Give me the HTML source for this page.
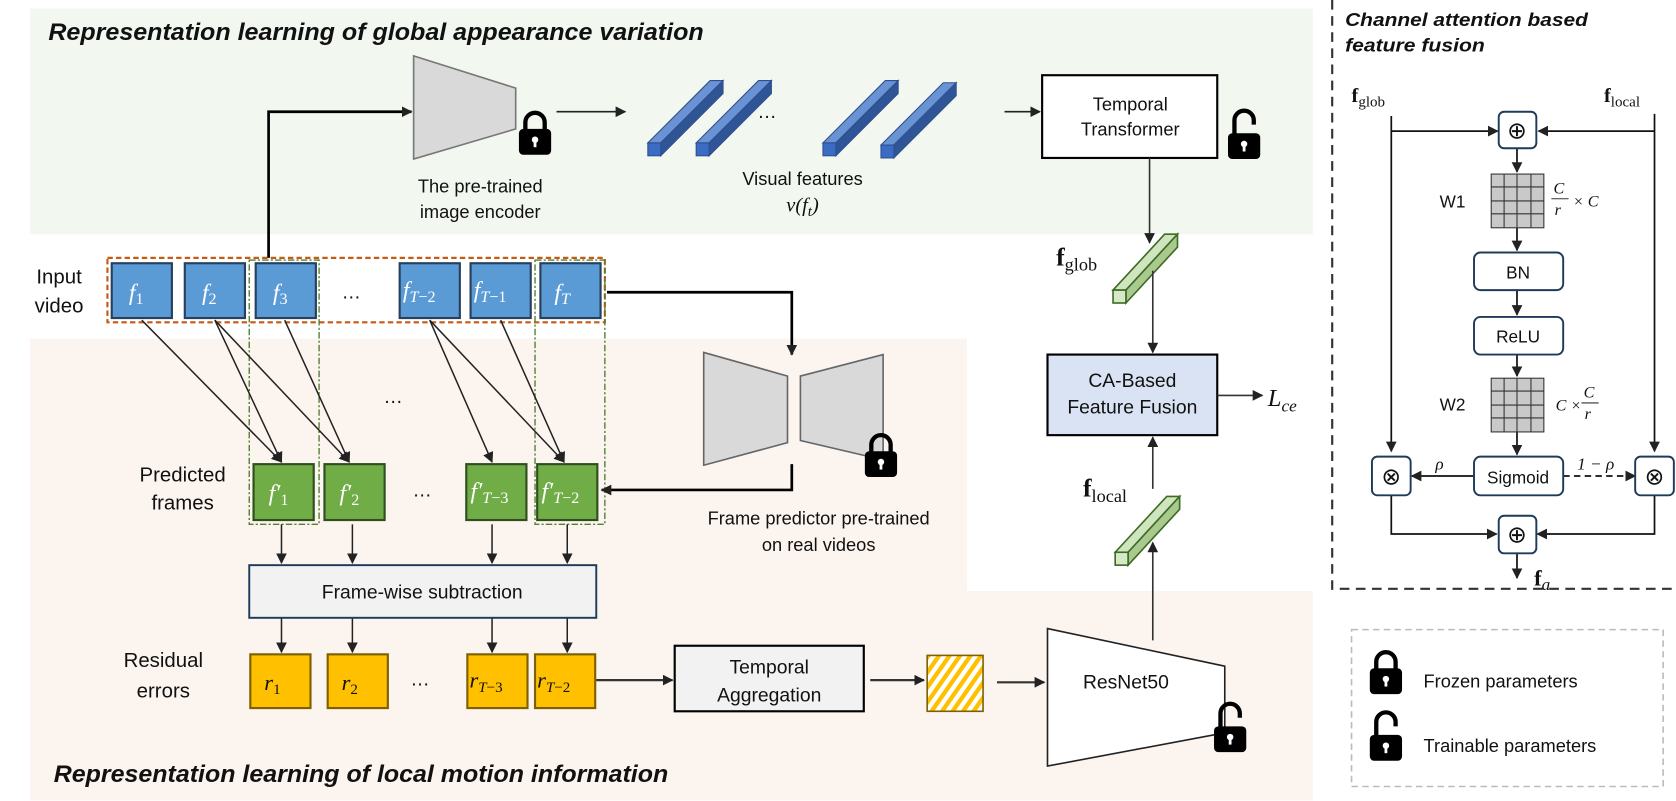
<!DOCTYPE html>
<html><head><meta charset="utf-8"><style>
html,body{margin:0;padding:0;background:#fff;}
svg{display:block;}
text{font-family:"Liberation Sans",sans-serif;fill:#111;}
.m{font-family:"Liberation Serif",serif;font-style:italic;}
.w{fill:#fff;}
.b{font-family:"Liberation Serif",serif;font-weight:bold;}
</style></head><body>
<svg width="1676" height="801" viewBox="0 0 1560 745.5" preserveAspectRatio="none" xmlns="http://www.w3.org/2000/svg">
<defs>
<marker id="a" markerWidth="10" markerHeight="10" refX="9" refY="5" orient="auto" markerUnits="userSpaceOnUse"><path d="M0,0 L10,5 L0,10 z" fill="#222"/></marker>
<pattern id="hatch" width="8" height="8" patternUnits="userSpaceOnUse" patternTransform="rotate(35)"><rect width="8" height="8" fill="#fff"/><rect width="4" height="8" fill="#ffc000"/></pattern>
<g id="lock"><path d="M-9,0 V-8 A9,9 0 0 1 9,-8 V0" fill="none" stroke="#000" stroke-width="4"/><rect x="-15" y="-2" width="30" height="24" rx="4" fill="#000"/><circle cx="0" cy="8" r="3" fill="#fff"/><rect x="-1.3" y="8" width="2.6" height="7" fill="#fff"/></g>
<g id="ulock"><path d="M-9,0 V-14 A9,9 0 0 1 9,-14 V-10" fill="none" stroke="#000" stroke-width="4"/><rect x="-15" y="-2" width="30" height="24" rx="4" fill="#000"/><circle cx="0" cy="8" r="3" fill="#fff"/><rect x="-1.3" y="8" width="2.6" height="7" fill="#fff"/></g>
<g id="bbar"><polygon points="0,0 58,-58 70,-58 12,0" fill="#6a93d4" stroke="#2f4f8f" stroke-width="1"/><polygon points="12,0 70,-58 70,-46 12,12" fill="#2f5597" stroke="#2f4f8f" stroke-width="1"/><rect x="0" y="0" width="12" height="12" fill="#3a6cc4" stroke="#2f4f8f" stroke-width="1"/></g>
<g id="gbar"><polygon points="0,0 48,-52 60,-52 12,0" fill="#cfe5bf" stroke="#3d6b22" stroke-width="1.5"/><polygon points="12,0 60,-52 60,-40 12,12" fill="#a9c98f" stroke="#3d6b22" stroke-width="1.5"/><rect x="0" y="0" width="12" height="12" fill="#d5e8c8" stroke="#3d6b22" stroke-width="1.5"/></g>
</defs>

<rect x="28" y="8" width="1194" height="210" fill="#f2f7ef"/>
<path d="M28,315 H900 V550 H1222 V745 H28 Z" fill="#fcf4ef"/>
<text x="45" y="37" font-size="22" font-weight="bold" font-style="italic" textLength="610" lengthAdjust="spacingAndGlyphs">Representation learning of global appearance variation</text>
<text x="50" y="728" font-size="22" font-weight="bold" font-style="italic" textLength="572" lengthAdjust="spacingAndGlyphs">Representation learning of local motion information</text>

<polygon points="385,52 480,82 480,120 385,148" fill="#d9d9d9" stroke="#777" stroke-width="1.5"/>
<use href="#lock" x="498" y="122"/>
<text x="447" y="179" font-size="17" text-anchor="middle">The pre-trained</text>
<text x="447" y="203" font-size="17" text-anchor="middle">image encoder</text>
<path d="M250,240 V104 H383" fill="none" stroke="#000" stroke-width="2.5" marker-end="url(#a)"/>
<path d="M518,104 H582" fill="none" stroke="#222" stroke-width="1.5" marker-end="url(#a)"/>
<use href="#bbar" x="603" y="133"/>
<use href="#bbar" x="648" y="133"/>
<text x="705" y="110" font-size="18">…</text>
<use href="#bbar" x="766" y="133"/>
<use href="#bbar" x="820" y="135"/>
<text x="747" y="172" font-size="17" text-anchor="middle">Visual features</text>
<text x="747" y="197" font-size="19" text-anchor="middle" class="m">v(f<tspan font-size="14" dy="4">t</tspan><tspan dy="-4">)</tspan></text>
<path d="M935,104 H968" fill="none" stroke="#222" stroke-width="1.5" marker-end="url(#a)"/>
<rect x="970" y="70" width="163" height="77" fill="#fff" stroke="#000" stroke-width="2"/>
<text x="1052" y="103" font-size="17" text-anchor="middle">Temporal</text>
<text x="1052" y="126" font-size="17" text-anchor="middle">Transformer</text>
<use href="#ulock" x="1158" y="126"/>

<text x="55" y="264" font-size="19" text-anchor="middle">Input</text>
<text x="55" y="291" font-size="19" text-anchor="middle">video</text>
<g fill="#5b9bd5" stroke="#27405e" stroke-width="2">
<rect x="104" y="245" width="56" height="51"/><rect x="172" y="245" width="56" height="51"/><rect x="238" y="245" width="56" height="51"/>
<rect x="372" y="245" width="56" height="51"/><rect x="438" y="245" width="56" height="51"/><rect x="503" y="245" width="56" height="51"/>
</g>
<g font-size="22" class="m">
<text x="120" y="279" class="m w">f<tspan font-size="15" dy="4" font-style="normal">1</tspan></text>
<text x="188" y="279" class="m w">f<tspan font-size="15" dy="4" font-style="normal">2</tspan></text>
<text x="254" y="279" class="m w">f<tspan font-size="15" dy="4" font-style="normal">3</tspan></text>
<text x="375" y="277" class="m w">f<tspan font-size="15" dy="4">T</tspan><tspan font-size="15" font-style="normal">−2</tspan></text>
<text x="441" y="277" class="m w">f<tspan font-size="15" dy="4">T</tspan><tspan font-size="15" font-style="normal">−1</tspan></text>
<text x="516" y="279" class="m w">f<tspan font-size="15" dy="4">T</tspan></text>
</g>
<text x="318" y="278" font-size="18">…</text>
<rect x="100" y="240" width="463" height="60" fill="none" stroke="#c55a11" stroke-width="2" stroke-dasharray="5,3"/>
<rect x="232" y="242" width="65" height="246" fill="none" stroke="#538135" stroke-width="1.3" stroke-dasharray="6,2,2,2"/>
<rect x="498" y="242" width="65" height="246" fill="none" stroke="#538135" stroke-width="1.3" stroke-dasharray="6,2,2,2"/>

<g stroke="#222" stroke-width="1.4" fill="none" marker-end="url(#a)">
<path d="M132,298 L262,430"/><path d="M200,298 L262,430"/><path d="M200,298 L325,430"/><path d="M265,298 L325,430"/>
<path d="M400,298 L458,430"/><path d="M400,298 L525,430"/><path d="M466,298 L525,430"/>
</g>
<text x="357" y="375" font-size="18">…</text>

<text x="170" y="448" font-size="19" text-anchor="middle">Predicted</text>
<text x="170" y="474" font-size="19" text-anchor="middle">frames</text>
<g fill="#70ad47" stroke="#2f4f1e" stroke-width="2">
<rect x="236" y="432" width="56" height="52"/><rect x="302" y="432" width="56" height="52"/><rect x="434" y="432" width="56" height="52"/><rect x="500" y="432" width="56" height="52"/>
</g>
<text x="250" y="466" font-size="22" class="m w">f′<tspan font-size="15" dy="4" font-style="normal">1</tspan></text>
<text x="316" y="466" font-size="22" class="m w">f′<tspan font-size="15" dy="4" font-style="normal">2</tspan></text>
<text x="438" y="464" font-size="22" class="m w">f′<tspan font-size="15" dy="4">T</tspan><tspan font-size="15" font-style="normal">−3</tspan></text>
<text x="504" y="464" font-size="22" class="m w">f′<tspan font-size="15" dy="4">T</tspan><tspan font-size="15" font-style="normal">−2</tspan></text>
<text x="384" y="462" font-size="18">…</text>

<polygon points="655,328 733,350 733,412 655,433" fill="#d9d9d9" stroke="#666" stroke-width="1.5"/>
<polygon points="745,350 822,330 822,428 745,410" fill="#d9d9d9" stroke="#666" stroke-width="1.5"/>
<use href="#lock" x="820" y="422"/>
<path d="M565,272 H737 V330" fill="none" stroke="#000" stroke-width="2.5" marker-end="url(#a)"/>
<path d="M737,432 V456 H560" fill="none" stroke="#000" stroke-width="2.5" marker-end="url(#a)"/>
<text x="762" y="488" font-size="17" text-anchor="middle">Frame predictor pre-trained</text>
<text x="762" y="513" font-size="17" text-anchor="middle">on real videos</text>

<g stroke="#222" stroke-width="1.4" fill="none" marker-end="url(#a)">
<path d="M262,488 V524"/><path d="M328,488 V524"/><path d="M458,488 V524"/><path d="M528,488 V524"/>
<path d="M262,575 V607"/><path d="M328,575 V607"/><path d="M458,575 V607"/><path d="M528,575 V607"/>
</g>
<rect x="232" y="526" width="323" height="49" fill="#f2f2f2" stroke="#1f3b5a" stroke-width="1.8"/>
<text x="393" y="557" font-size="18" text-anchor="middle">Frame-wise subtraction</text>

<text x="152" y="621" font-size="19" text-anchor="middle">Residual</text>
<text x="152" y="649" font-size="19" text-anchor="middle">errors</text>
<g fill="#ffc000" stroke="#7f6000" stroke-width="2">
<rect x="233" y="609" width="56" height="50"/><rect x="305" y="609" width="56" height="50"/><rect x="435" y="609" width="56" height="50"/><rect x="498" y="609" width="56" height="50"/>
</g>
<text x="246" y="642" font-size="21" class="m">r<tspan font-size="14" dy="4" font-style="normal">1</tspan></text>
<text x="318" y="642" font-size="21" class="m">r<tspan font-size="14" dy="4" font-style="normal">2</tspan></text>
<text x="437" y="640" font-size="21" class="m">r<tspan font-size="14" dy="4">T</tspan><tspan font-size="14" font-style="normal">−3</tspan></text>
<text x="500" y="640" font-size="21" class="m">r<tspan font-size="14" dy="4">T</tspan><tspan font-size="14" font-style="normal">−2</tspan></text>
<text x="382" y="638" font-size="18">…</text>
<path d="M555,633 H626" fill="none" stroke="#333" stroke-width="2" marker-end="url(#a)"/>
<rect x="628" y="601" width="176" height="61" fill="#f2f2f2" stroke="#000" stroke-width="2"/>
<text x="716" y="627" font-size="18" text-anchor="middle">Temporal</text>
<text x="716" y="653" font-size="18" text-anchor="middle">Aggregation</text>
<path d="M810,633 H860" fill="none" stroke="#333" stroke-width="2" marker-end="url(#a)"/>
<rect x="863" y="610" width="52" height="52" fill="url(#hatch)" stroke="#7f6000" stroke-width="1.5"/>
<path d="M928,635 H972" fill="none" stroke="#333" stroke-width="2" marker-end="url(#a)"/>
<polygon points="975,585 1140,620 1140,682 975,713" fill="#fff" stroke="#222" stroke-width="1.5"/>
<text x="1048" y="641" font-size="18" text-anchor="middle">ResNet50</text>
<use href="#ulock" x="1145" y="678"/>

<path d="M1073,596 V505" fill="none" stroke="#333" stroke-width="1.5" marker-end="url(#a)"/>
<use href="#gbar" x="1038" y="514"/>
<text x="1008" y="462" font-size="24" class="b">f<tspan font-size="17" dy="5" font-weight="normal">local</tspan></text>
<path d="M1073,455 V407" fill="none" stroke="#333" stroke-width="1.5" marker-end="url(#a)"/>
<rect x="975" y="330" width="158" height="75" fill="#dae3f3" stroke="#000" stroke-width="2"/>
<text x="1054" y="360" font-size="18" text-anchor="middle">CA-Based</text>
<text x="1054" y="385" font-size="18" text-anchor="middle">Feature Fusion</text>
<path d="M1070,147 V226" fill="none" stroke="#333" stroke-width="1.5" marker-end="url(#a)"/>
<use href="#gbar" x="1036" y="270"/>
<text x="983" y="247" font-size="24" class="b">f<tspan font-size="17" dy="5" font-weight="normal">glob</tspan></text>
<path d="M1073,252 V328" fill="none" stroke="#333" stroke-width="1.5" marker-end="url(#a)"/>
<path d="M1133,368 H1175" fill="none" stroke="#333" stroke-width="1.5" marker-end="url(#a)"/>
<text x="1180" y="378" font-size="23" class="m">L<tspan font-size="16" dy="5">ce</tspan></text>

<path d="M1240,0 V548 H1565" fill="none" stroke="#333" stroke-width="2" stroke-dasharray="9,6"/>
<text x="1252" y="24" font-size="17" font-weight="bold" font-style="italic" textLength="226" lengthAdjust="spacingAndGlyphs">Channel attention based</text>
<text x="1252" y="48" font-size="17" font-weight="bold" font-style="italic" textLength="130" lengthAdjust="spacingAndGlyphs">feature fusion</text>
<text x="1258" y="95" font-size="19" class="b">f<tspan font-size="14" dy="4" font-weight="normal">glob</tspan></text>
<text x="1493" y="95" font-size="19" class="b">f<tspan font-size="14" dy="4" font-weight="normal">local</tspan></text>
<g stroke="#111" stroke-width="1.6" fill="none">
<path d="M1295,108 V420" marker-end="url(#a)"/>
<path d="M1295,122 H1394" marker-end="url(#a)"/>
<path d="M1540,106 V420" marker-end="url(#a)"/>
<path d="M1540,122 H1432" marker-end="url(#a)"/>
<path d="M1412,138 V160" marker-end="url(#a)"/>
<path d="M1412,212 V233" marker-end="url(#a)"/>
<path d="M1412,270 V293" marker-end="url(#a)"/>
<path d="M1412,330 V350" marker-end="url(#a)"/>
<path d="M1412,402 V423" marker-end="url(#a)"/>
<path d="M1372,443 H1314" marker-end="url(#a)"/>
<path d="M1455,443 H1522" stroke-dasharray="6,4" marker-end="url(#a)"/>
<path d="M1295,461 V497 H1393" marker-end="url(#a)"/>
<path d="M1540,461 V497 H1431" marker-end="url(#a)"/>
<path d="M1412,515 V538" marker-end="url(#a)"/>
</g>
<g fill="#fff" stroke="#1f3b5a" stroke-width="1.8">
<rect x="1395" y="104" width="35" height="34" rx="5"/>
<rect x="1372" y="235" width="83" height="35" rx="6"/>
<rect x="1372" y="295" width="83" height="35" rx="6"/>
<rect x="1372" y="425" width="83" height="36" rx="6"/>
<rect x="1277" y="425" width="36" height="36" rx="5"/>
<rect x="1522" y="425" width="36" height="36" rx="5"/>
<rect x="1395" y="480" width="35" height="35" rx="5"/>
</g>
<g font-size="22" text-anchor="middle">
<text x="1412" y="129">⊕</text><text x="1412" y="505">⊕</text>
<text x="1295" y="451">⊗</text><text x="1540" y="451">⊗</text>
</g>
<text x="1413" y="259" font-size="16" text-anchor="middle">BN</text>
<text x="1413" y="319" font-size="16" text-anchor="middle">ReLU</text>
<text x="1413" y="450" font-size="16" text-anchor="middle">Sigmoid</text>
<g fill="#c9c9c9" stroke="#333" stroke-width="1">
<rect x="1388" y="162" width="49" height="50"/><rect x="1388" y="352" width="49" height="50"/>
</g>
<g stroke="#333" stroke-width="1">
<path d="M1400,162V212M1412,162V212M1425,162V212M1388,174H1437M1388,187H1437M1388,199H1437"/>
<path d="M1400,352V402M1412,352V402M1425,352V402M1388,364H1437M1388,377H1437M1388,389H1437"/>
</g>
<text x="1340" y="193" font-size="16">W1</text>
<text x="1340" y="382" font-size="16">W2</text>
<g class="m" font-size="15">
<text x="1446" y="180" class="m">C</text><path d="M1444,185 H1460" stroke="#333"/><text x="1447" y="200" class="m">r</text>
<text x="1464" y="192" class="m">× C</text>
<text x="1448" y="382" class="m">C ×</text><text x="1474" y="370" class="m">C</text><path d="M1472,375 H1488" stroke="#333"/><text x="1475" y="390" class="m">r</text>
</g>
<text x="1336" y="437" font-size="16" class="m">ρ</text>
<text x="1468" y="437" font-size="16" class="m">1 − ρ</text>
<text x="1428" y="545" font-size="21" class="b">f<tspan font-size="16" dy="4" class="m" font-weight="normal">a</tspan></text>

<rect x="1258" y="586" width="290" height="146" fill="none" stroke="#bbb" stroke-width="1.5" stroke-dasharray="6,4"/>
<use href="#lock" x="1290" y="624"/>
<text x="1325" y="640" font-size="17">Frozen parameters</text>
<use href="#ulock" x="1290" y="686"/>
<text x="1325" y="700" font-size="17">Trainable parameters</text>
</svg>
</body></html>
